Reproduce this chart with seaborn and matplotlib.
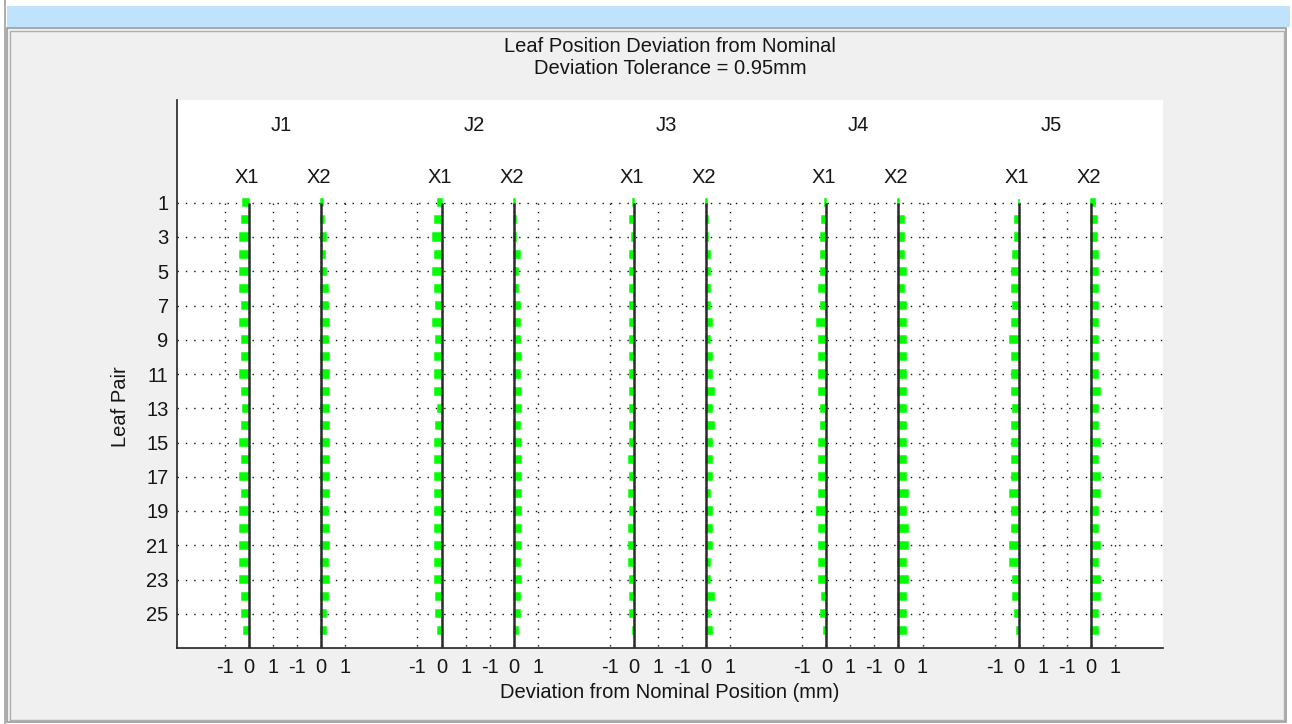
import matplotlib
matplotlib.use("Agg")
import matplotlib.pyplot as plt
import seaborn as sns
import numpy as np
from matplotlib.patches import Rectangle
from matplotlib.lines import Line2D

# ---------------- data ----------------
leaves = list(range(1, 27))
groups = ["J1", "J2", "J3", "J4", "J5"]
sides = ["X1", "X2"]
tolerance = 0.95

J1_X1 = [-0.24,-0.31,-0.38,-0.38,-0.38,-0.38,-0.31,-0.38,-0.31,-0.31,-0.38,-0.31,-0.24,
         -0.31,-0.38,-0.31,-0.38,-0.31,-0.38,-0.38,-0.38,-0.38,-0.38,-0.31,-0.31,-0.22]
J1_X2 = [0.06,0.12,0.19,0.17,0.19,0.26,0.26,0.33,0.26,0.33,0.33,0.33,0.33,
         0.33,0.33,0.33,0.33,0.33,0.26,0.33,0.33,0.26,0.33,0.26,0.19,0.19]
J2_X1 = [-0.15,-0.29,-0.36,-0.29,-0.36,-0.29,-0.22,-0.36,-0.22,-0.29,-0.29,-0.29,-0.15,
         -0.22,-0.29,-0.29,-0.29,-0.29,-0.29,-0.29,-0.29,-0.29,-0.29,-0.22,-0.22,-0.15]
J2_X2 = [0.05,0.11,0.11,0.25,0.18,0.18,0.25,0.25,0.25,0.32,0.25,0.32,0.32,
         0.25,0.32,0.32,0.32,0.32,0.32,0.32,0.32,0.25,0.32,0.25,0.25,0.18]
J3_X1 = [-0.02,-0.15,-0.08,-0.15,-0.15,-0.15,-0.15,-0.15,-0.15,-0.15,-0.15,-0.15,-0.15,
         -0.15,-0.15,-0.22,-0.15,-0.22,-0.15,-0.22,-0.22,-0.22,-0.15,-0.15,-0.15,-0.02]
J3_X2 = [0.02,0.10,0.10,0.17,0.17,0.17,0.17,0.24,0.17,0.24,0.24,0.32,0.24,
         0.32,0.24,0.24,0.24,0.17,0.24,0.24,0.24,0.17,0.17,0.32,0.17,0.24]
J4_X1 = [-0.05,-0.17,-0.24,-0.24,-0.24,-0.30,-0.24,-0.37,-0.30,-0.30,-0.30,-0.30,-0.24,
         -0.24,-0.30,-0.30,-0.30,-0.30,-0.37,-0.30,-0.30,-0.30,-0.30,-0.17,-0.24,-0.10]
J4_X2 = [0.04,0.25,0.25,0.25,0.32,0.25,0.32,0.32,0.32,0.32,0.32,0.32,0.32,
         0.32,0.32,0.32,0.32,0.39,0.32,0.39,0.39,0.32,0.39,0.32,0.32,0.32]
J5_X1 = [0.00,-0.15,-0.15,-0.22,-0.29,-0.29,-0.22,-0.29,-0.36,-0.29,-0.29,-0.29,-0.22,
         -0.29,-0.29,-0.29,-0.29,-0.36,-0.29,-0.29,-0.36,-0.36,-0.22,-0.22,-0.15,-0.08]
J5_X2 = [0.17,0.24,0.24,0.30,0.30,0.30,0.30,0.30,0.30,0.30,0.30,0.38,0.30,
         0.30,0.38,0.30,0.38,0.38,0.30,0.30,0.38,0.30,0.38,0.38,0.30,0.30]

series = {
    ("J1", "X1"): J1_X1, ("J1", "X2"): J1_X2,
    ("J2", "X1"): J2_X1, ("J2", "X2"): J2_X2,
    ("J3", "X1"): J3_X1, ("J3", "X2"): J3_X2,
    ("J4", "X1"): J4_X1, ("J4", "X2"): J4_X2,
    ("J5", "X1"): J5_X1, ("J5", "X2"): J5_X2,
}
ytick_labels = [str(v) for v in range(1, 26, 2)]
sub_tick_labels = ["-1", "0", "1", "-1", "0", "1"]

# ---------------- style ----------------
sns.set_theme(style="white")
FONT = ["Liberation Sans", "DejaVu Sans"]
plt.rcParams["font.family"] = FONT
FS = 14.5
TXT = "#151515"

W, H = 1292, 724
DPI = 100
fig = plt.figure(figsize=(W / DPI, H / DPI), dpi=DPI, facecolor="white")

def fx(x):
    return x / W

def fy(y):
    return 1 - y / H

# window chrome (behind the axes)
fig.add_artist(Line2D([fx(4.5), fx(4.5)], [0, 1], color="#a0a0a0", lw=1.2,
                      transform=fig.transFigure, zorder=-10))
fig.add_artist(Rectangle((fx(7), fy(27)), fx(1290) - fx(7), fy(6) - fy(27),
                         facecolor="#bfe3fb", edgecolor="none", transform=fig.transFigure, zorder=-10))
fig.add_artist(Rectangle((fx(7), fy(722)), fx(1286) - fx(7), fy(28) - fy(722),
                         facecolor="#f0f0f0", edgecolor="#9a9a9a", lw=1.2,
                         transform=fig.transFigure, zorder=-10))
fig.add_artist(Rectangle((fx(9.5), fy(719.5)), fx(1283.5) - fx(9.5), fy(31) - fy(719.5),
                         facecolor="none", edgecolor="#b0b0b0", lw=1.0,
                         transform=fig.transFigure, zorder=-9))

# axes
L, R, T, B = 177, 1163, 100, 648
ax = fig.add_axes([fx(L), fy(B), fx(R) - fx(L), fy(T) - fy(B)])
ax.set_zorder(1)
ax.set_facecolor("white")
ax.set_xlim(-3, 38)
ax.set_ylim(27, -5)

dot = (0, (1, 5))
grid_kw = dict(color="#111111", lw=1.0, linestyle=dot, zorder=1)

xt, xl = [], []
for g, grp in enumerate(groups):
    base = 8 * g
    for k, off in enumerate([-1, 0, 1, 2, 3, 4]):
        xt.append(base + off)
        xl.append(sub_tick_labels[k])

ytv = list(range(1, 26, 2))
ax.hlines(ytv, -3, 38, **grid_kw)
ax.vlines(xt, 1, 27, **grid_kw)

for g, grp in enumerate(groups):
    for s, side in enumerate(sides):
        zero = 8 * g + 3 * s
        vals = series[(grp, side)]
        ax.barh(leaves, vals, left=zero, height=0.42, color="#00ff00",
                edgecolor="#00ff00", lw=1.1, zorder=3)
        ax.vlines(zero, 1, 27, color="#2a2a2a", lw=1.8, zorder=4)
        ax.text(zero - 0.6, -0.5, side, ha="left", va="center", fontsize=FS, color=TXT)
    ax.text(8 * g + 0.9, -3.5, grp, ha="left", va="center", fontsize=FS, color=TXT)

ax.set_xticks(xt)
ax.set_xticklabels(xl)
ax.set_yticks(ytv)
ax.set_yticklabels(ytick_labels)
ax.tick_params(axis="both", direction="in", length=7, width=1.2, colors="#222222",
               labelsize=FS, labelcolor=TXT, pad=6)
ax.tick_params(axis="x", pad=7)
for sp in ["top", "right"]:
    ax.spines[sp].set_visible(False)
for sp in ["left", "bottom"]:
    ax.spines[sp].set_color("#222222")
    ax.spines[sp].set_linewidth(1.2)

ax.set_xlabel("Deviation from Nominal Position (mm)", fontsize=FS, color=TXT)
ax.xaxis.set_label_coords(0.5, (B - 693) / (B - T))
ax.xaxis.label.set_va("center")
ax.set_ylabel("Leaf Pair", fontsize=FS, color=TXT)
ax.yaxis.set_label_coords((120 - L) / (R - L), (B - 407) / (B - T))
ax.yaxis.label.set_va("center")

fig.text(fx(670), fy(47), "Leaf Position Deviation from Nominal", ha="center", va="center",
         fontsize=FS, color=TXT)
fig.text(fx(670), fy(68), "Deviation Tolerance = %.2fmm" % tolerance, ha="center", va="center",
         fontsize=FS, color=TXT)

fig.savefig("out.png", dpi=DPI, facecolor=fig.get_facecolor())
